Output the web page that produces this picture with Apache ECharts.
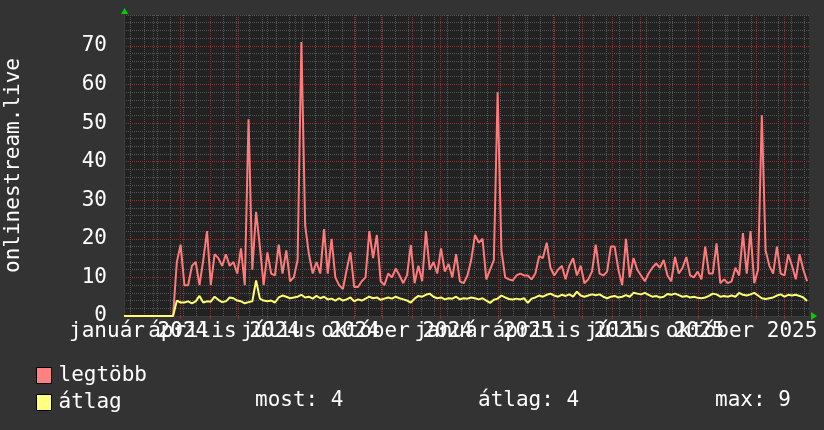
<!DOCTYPE html>
<html>
<head>
<meta charset="utf-8">
<title>onlinestream.live</title>
<script src="https://cdn.jsdelivr.net/npm/echarts@6/dist/echarts.min.js"></script>
<style>
  html, body { margin: 0; padding: 0; background: #333333; }
  #chart { width: 824px; height: 430px; }
</style>
</head>
<body>
<div id="chart"></div>
<script>
// one sample every 4 days, day 0 = 2024-01-01
const STEP_DAYS = 4
const AXIS_MAX_DAY = 726

const legtobb = [
  0, 0, 0, 0, 0, 0, 0, 0, 0, 0, 0, 0, 0, 0,
  14, 18.5, 8, 8, 13, 14, 8, 14.5, 22, 8,
  16, 15, 13, 16, 13, 14, 11, 17.5, 8, 51,
  12, 27, 18, 8, 16.5, 11, 10.5, 18.5, 11, 17,
  9, 10, 14.5, 71, 23.5, 16, 11, 14, 11, 22.5,
  11, 20, 10, 8, 7, 12, 16.5, 7.5, 7.5, 9,
  10, 22, 15, 21, 9, 8, 11, 10, 12.3, 10.5,
  8.5, 10.6, 18.4, 8.5, 13, 9, 22, 12, 14, 11,
  17.5, 11.5, 13.5, 10, 16, 9, 8.5, 10.5, 14.5, 21,
  19, 20, 9.5, 12, 14.5, 58, 17, 10, 9.5, 9.2,
  10.5, 11, 10.5, 10.5, 9.5, 11, 15.5, 15, 19, 12.5,
  10.5, 12, 13, 9.5, 13, 15, 10.5, 13, 8.5, 9.5,
  11.5, 18.5, 11, 10.5, 11.5, 18, 18, 12, 8, 20,
  10, 15, 12, 10.5, 9, 11, 12.5, 13.6, 12.5, 14.5,
  10.5, 9, 15.3, 11, 12.5, 15.3, 10.5, 10, 11.5, 9.5,
  18, 11, 11, 18.8, 8.5, 9.5, 8.5, 9, 12.5, 10.5,
  21.5, 11, 22, 8.5, 12, 52, 17, 13, 11, 18,
  11, 10.5, 16, 13, 9.5, 16, 12, 9
]

const atlag = [
  0, 0, 0, 0, 0, 0, 0, 0, 0, 0, 0, 0, 0, 0,
  4, 3.5, 3.5, 3.8, 3.3, 3.8, 5.2, 3.5, 3.8, 3.7,
  5, 4.2, 3.6, 3.8, 4.8, 4.6, 4.0, 3.8, 3.3, 3.6,
  3.8, 9.2, 4.5, 4.0, 3.8, 4.0, 3.5, 4.8, 5.3, 5.0,
  4.6, 4.8, 5.0, 5.5, 4.8, 5.0, 4.5, 5.2, 4.6, 5.0,
  4.3, 4.5, 4.0, 4.6, 4.0, 4.3, 4.8, 3.8, 4.3, 4.0,
  4.5, 5.0, 4.6, 4.8, 4.2, 4.5, 4.8, 4.5, 5.0, 4.6,
  4.3, 4.0, 3.5, 4.5, 5.2, 5.0, 5.5, 5.8, 5.0, 4.6,
  4.8, 4.3, 4.6, 4.5, 5.0, 4.3, 4.6, 4.5, 4.8, 4.6,
  4.3, 4.6, 4.0, 3.4, 4.2, 4.5, 5.3, 4.8, 4.4, 4.3,
  4.5, 4.3, 4.6, 3.4, 4.5, 4.8, 5.3, 5.0, 5.5, 5.8,
  5.3, 5.0, 5.5, 5.2, 5.6, 5.0, 6.3, 5.3, 5.0, 5.3,
  5.6, 5.4, 5.6, 5.0, 4.6, 5.0, 5.2, 4.8, 5.0, 5.4,
  5.0, 6.0, 5.8, 5.6, 6.0, 5.5, 5.0, 5.2, 4.8, 5.0,
  5.7, 5.5, 5.8, 5.4, 5.0, 5.2, 4.8, 5.0, 4.7, 4.6,
  4.8, 5.2, 5.8, 5.6, 5.0, 5.2, 5.0, 5.3, 5.0, 6.0,
  5.5, 5.3, 5.6, 6.0, 5.3, 4.6, 4.4, 4.6, 4.8, 5.3,
  5.6, 5.0, 5.5, 5.3, 5.5, 5.2, 4.8, 3.9
]

// first day of each month (major grid)
const monthStarts = [0, 31, 60, 91, 121, 152, 182, 213, 244, 274, 305, 335,
  366, 397, 425, 456, 486, 517, 547, 578, 609, 639, 670, 700]
// labels sit in the middle of their month
const labelDays = [15.5, 106, 197.5, 289.5, 381.5, 471, 562.5, 654.5]
const labelTexts = ['január 2024', 'április 2024', 'július 2024', 'október 2024',
  'január 2025', 'április 2025', 'július 2025', 'október 2025']

const minorGridDays = []
for (let d = 7; d <= AXIS_MAX_DAY; d += 14) minorGridDays.push(d)

const FONT = '"DejaVu Sans Mono", monospace'
const FONT_SIZE = 21
const MAJOR = '#7e3636'
const MINOR = '#555555'

const toPoints = arr => arr.map((v, i) => [i * STEP_DAYS, v])

const most = atlag[atlag.length - 1]
const avg = atlag.reduce((a, b) => a + b, 0) / atlag.length
const max = Math.max(...atlag)

const chart = echarts.init(document.getElementById('chart'))

// empty labels at both ends so the min/max label check drops those, not real ones
const labelValues = [0, ...labelDays, AXIS_MAX_DAY]

const option = {
  animation: false,
  backgroundColor: '#333333',
  textStyle: { fontFamily: FONT },
  grid: {
    left: 124, right: 15, top: 15, bottom: 114,
    outerBoundsMode: 'none',
    show: true, backgroundColor: '#222222', borderWidth: 0
  },
  legend: {
    orient: 'vertical',
    left: 31, top: 360,
    itemWidth: 15, itemHeight: 16, itemGap: 6,
    icon: 'rect',
    selectedMode: false,
    itemStyle: { borderColor: '#000', borderWidth: 1 },
    textStyle: { color: '#fff', fontSize: FONT_SIZE, fontFamily: FONT, padding: [0, 0, 0, 2] },
    data: ['legtöbb', 'átlag']
  },
  xAxis: [
    {
      type: 'value', min: 0, max: AXIS_MAX_DAY, position: 'top',
      axisLine: { show: false },
      axisLabel: { show: false },
      axisTick: { show: false, customValues: minorGridDays },
      splitLine: { show: true, lineStyle: { color: MINOR, type: [1, 1] } }
    },
    {
      type: 'value', min: 0, max: AXIS_MAX_DAY, position: 'bottom',
      axisLine: { show: true, lineStyle: { color: '#3c3c3c' } },
      axisTick: { show: true, length: 3, customValues: monthStarts, lineStyle: { color: MAJOR } },
      axisLabel: {
        customValues: labelValues,
        formatter: v => labelTexts[labelDays.indexOf(v)] || '',
        color: '#fff', fontSize: FONT_SIZE, fontFamily: FONT, margin: 5,
        showMinLabel: false, showMaxLabel: false, hideOverlap: false
      },
      splitLine: { show: true, lineStyle: { color: MAJOR, type: [1, 1] } }
    }
  ],
  yAxis: {
    type: 'value', min: 0, max: 78, interval: 2,
    name: 'onlinestream.live',
    nameLocation: 'middle',
    nameGap: 100,
    nameTextStyle: { color: '#fff', fontSize: FONT_SIZE, fontFamily: FONT },
    axisLine: { show: true, lineStyle: { color: '#3c3c3c' } },
    axisTick: { show: false },
    axisLabel: {
      color: '#fff', fontSize: FONT_SIZE, fontFamily: FONT, margin: 17,
      showMaxLabel: false,
      formatter: v => (v % 10 === 0 ? String(v) : '')
    },
    splitLine: {
      show: true,
      lineStyle: { color: [MAJOR, MINOR, MINOR, MINOR, MINOR], type: [1, 1] }
    }
  },
  graphic: [
    { type: 'polygon', shape: { points: [[121, 14], [128, 14], [124.5, 8]] }, style: { fill: '#00d000' } },
    { type: 'polygon', shape: { points: [[811, 312], [811, 320], [817, 316]] }, style: { fill: '#00d000' } },
    { type: 'text', x: 255, y: 401, style: { text: 'most: ' + most.toFixed(0), fill: '#fff', font: FONT_SIZE + 'px ' + FONT, verticalAlign: 'middle' } },
    { type: 'text', x: 478, y: 401, style: { text: 'átlag: ' + avg.toFixed(0), fill: '#fff', font: FONT_SIZE + 'px ' + FONT, verticalAlign: 'middle' } },
    { type: 'text', x: 715, y: 401, style: { text: 'max: ' + max.toFixed(0), fill: '#fff', font: FONT_SIZE + 'px ' + FONT, verticalAlign: 'middle' } }
  ],
  series: [
    {
      name: 'legtöbb', type: 'line', xAxisIndex: 1,
      data: toPoints(legtobb),
      showSymbol: false,
      color: '#ff8080',
      lineStyle: { color: '#ff7b7b', width: 2 }
    },
    {
      name: 'átlag', type: 'line', xAxisIndex: 1,
      data: toPoints(atlag),
      showSymbol: false,
      color: '#ffff80',
      lineStyle: { color: '#ffff70', width: 2 }
    }
  ]
}

chart.setOption(option)
</script>
</body>
</html>
